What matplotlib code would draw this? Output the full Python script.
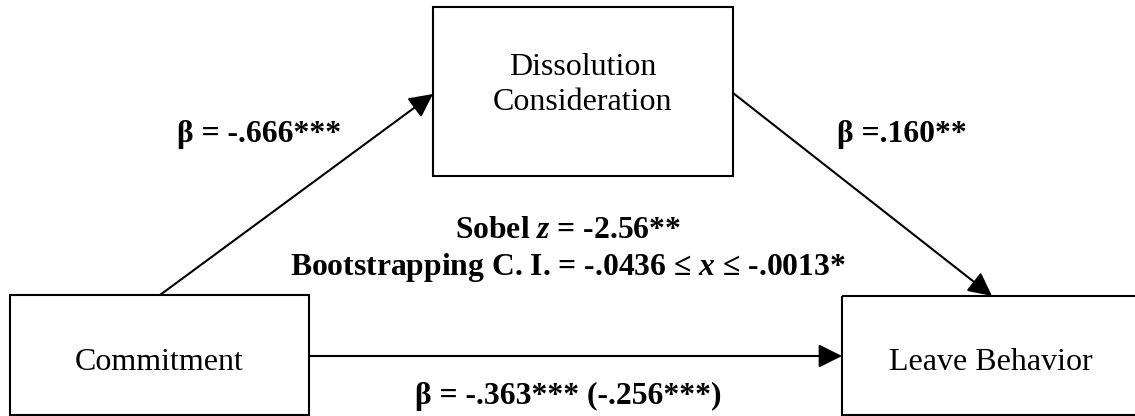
import matplotlib
matplotlib.use("Agg")
import matplotlib.pyplot as plt
from matplotlib.patches import Rectangle

plt.rcParams["font.family"] = ["Liberation Serif", "DejaVu Serif"]
plt.rcParams["mathtext.fontset"] = "custom"
plt.rcParams["mathtext.rm"] = "Liberation Serif:bold"
plt.rcParams["mathtext.it"] = "Liberation Serif:italic:bold"

# diagram content
node_names = ["Commitment", "Dissolution\nConsideration", "Leave Behavior"]
path_a = "β = -.666***"
path_b = "β =.160**"
path_c = "β = -.363*** (-.256***)"
sobel_lines = [r"Sobel $\mathit{z}$ = -2.56**",
               r"Bootstrapping C. I. = -.0436 ≤ $\mathit{x}$ ≤ -.0013*"]

# layout in pixel space (x0, y0, x1, y1)
boxes = [(10, 295, 309, 415), (433, 7, 733, 176), (842, 296, 1145, 415)]
text_pos = [(159, 362), (583, 85), (991, 362)]

fig = plt.figure(figsize=(11.35, 4.16), dpi=100)
ax = fig.add_axes([0, 0, 1, 1])
ax.set_xlim(0, 1135)
ax.set_ylim(416, 0)
ax.axis("off")

for (x0, y0, x1, y1), name, (tx, ty) in zip(boxes, node_names, text_pos):
    ax.add_patch(Rectangle((x0, y0), x1 - x0, y1 - y0, fill=False,
                           ec="black", lw=1.5))
    ax.text(tx, ty, name, ha="center", va="center", fontsize=23,
            linespacing=1.25)

arrow_kw = dict(arrowstyle="-|>", color="black", lw=1.5,
                mutation_scale=36, shrinkA=0, shrinkB=0)
ax.annotate("", xy=(433, 94), xytext=(160, 295), arrowprops=arrow_kw)
ax.annotate("", xy=(992, 296), xytext=(733, 93), arrowprops=arrow_kw)
ax.annotate("", xy=(842, 356), xytext=(309, 356), arrowprops=arrow_kw)

bold = dict(fontsize=22.8, fontweight="bold", va="baseline")
ax.text(177, 142, path_a, ha="left", **bold)
ax.text(837, 142, path_b, ha="left", **bold)
ax.text(568, 404, path_c, ha="center", **bold)
ax.text(568, 238, sobel_lines[0], ha="center", **bold)
ax.text(568, 275, sobel_lines[1], ha="center", **bold)

fig.savefig("out.png", dpi=100)
